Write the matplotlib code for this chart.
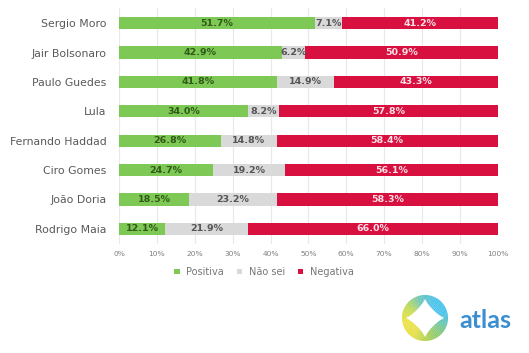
import numpy as np
import matplotlib.pyplot as plt
from matplotlib.patches import Wedge, Polygon
from matplotlib.colors import LinearSegmentedColormap

names = ["Sergio Moro", "Jair Bolsonaro", "Paulo Guedes", "Lula",
         "Fernando Haddad", "Ciro Gomes", "João Doria", "Rodrigo Maia"]
positiva = [51.7, 42.9, 41.8, 34.0, 26.8, 24.7, 18.5, 12.1]
nao_sei = [7.1, 6.2, 14.9, 8.2, 14.8, 19.2, 23.2, 21.9]
negativa = [41.2, 50.9, 43.3, 57.8, 58.4, 56.1, 58.3, 66.0]

series = [
    ("Positiva", positiva, "#7ec856", "#2f5a17"),
    ("Não sei", nao_sei, "#d9d9d9", "#555555"),
    ("Negativa", negativa, "#d7103f", "#fbe0e6"),
]

plt.rcParams['font.family'] = ['DejaVu Sans']

fig = plt.figure(figsize=(5.29, 3.53), dpi=100)
ax = fig.add_axes([0.225, 0.310, 0.716, 0.666])

y = np.arange(len(names))
left = np.zeros(len(names))
handles = []
for label, vals, color, tcolor in series:
    vals = np.array(vals)
    b = ax.barh(y, vals, left=left, height=0.42, color=color, label=label, zorder=3)
    handles.append(b)
    for yi, l, v in zip(y, left, vals):
        ax.text(l + v / 2, yi, f"{v:.1f}%", ha="center", va="center",
                fontsize=6.8, fontweight="bold", color=tcolor, zorder=4)
    left += vals

ax.set_xlim(0, 100)
ax.set_ylim(len(names) - 0.5, -0.5)
ax.set_yticks(y)
ax.set_yticklabels(names, fontsize=7.8, color="#595959")
ax.set_xticks(np.arange(0, 101, 10))
ax.set_xticklabels([f"{t}%" for t in range(0, 101, 10)], fontsize=5.4, color="#808080")
ax.tick_params(length=0, pad=5)
ax.tick_params(axis="y", pad=9)
ax.grid(axis="x", color="#e8e8e8", linewidth=0.8, zorder=0)
for s in ax.spines.values():
    s.set_visible(False)

fig.legend(handles=handles, loc="center", bbox_to_anchor=(264 / 529, 1 - 272 / 353),
           ncol=3, frameon=False, fontsize=7, handlelength=0.55, handleheight=0.55,
           columnspacing=1.3, handletextpad=0.7, labelcolor="#777777")

# atlas logo
lax = fig.add_axes([0, 0, 1, 1], facecolor="none")
lax.set_xlim(0, 529)
lax.set_ylim(353, 0)
lax.axis("off")
cx, cy, r = 425, 318, 23
cmap = LinearSegmentedColormap.from_list(
    "atlas", ["#4dc4ec", "#4dc4ec", "#7cc890", "#a8d05a", "#e6e04a", "#eee34a", "#c4dc55", "#6cc6c0", "#4dc4ec"])
for i in range(72):
    a = i * 5
    lax.add_patch(Wedge((cx, cy), r, a, a + 5.5, color=cmap(((a + 60) % 360) / 360), lw=0))
# white four-pointed star (superellipse with p < 1)
R, p = 0.84 * r, 0.8
t = np.linspace(0, 2 * np.pi, 200)
sx = R * np.sign(np.cos(t)) * np.abs(np.cos(t)) ** (2 / p)
sy = R * np.sign(np.sin(t)) * np.abs(np.sin(t)) ** (2 / p)
lax.add_patch(Polygon(np.column_stack([cx + sx, cy + sy]), closed=True, color="white", lw=0))
lax.text(459, 320, "atlas", fontsize=18, color="#3b8fd1", ha="left", va="center",
         fontweight="bold", family="Lato")

fig.savefig("out.png", dpi=100, facecolor="white")
